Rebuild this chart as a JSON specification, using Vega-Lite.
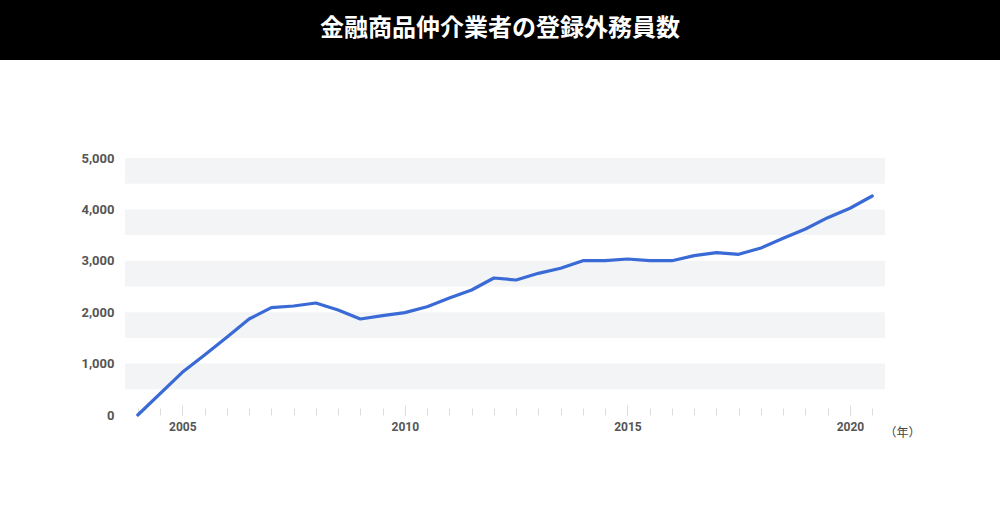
{
  "$schema": "https://vega.github.io/schema/vega-lite/v6.json",
  "padding": 0,
  "background": "#ffffff",
  "spacing": 92,
  "columns": 1,
  "config": {
    "view": {"stroke": null},
    "font": "Noto Sans CJK JP"
  },
  "datasets": {
    "series": [
      {"year": 2004.0, "count": 0},
      {"year": 2005.0, "count": 831},
      {"year": 2005.5, "count": 1167},
      {"year": 2006.0, "count": 1511},
      {"year": 2006.5, "count": 1868},
      {"year": 2007.0, "count": 2088},
      {"year": 2007.5, "count": 2121},
      {"year": 2008.0, "count": 2179},
      {"year": 2008.5, "count": 2043},
      {"year": 2009.0, "count": 1868},
      {"year": 2009.5, "count": 1932},
      {"year": 2010.0, "count": 1991},
      {"year": 2010.5, "count": 2107},
      {"year": 2011.0, "count": 2276},
      {"year": 2011.5, "count": 2432},
      {"year": 2012.0, "count": 2665},
      {"year": 2012.5, "count": 2626},
      {"year": 2013.0, "count": 2756},
      {"year": 2013.5, "count": 2854},
      {"year": 2014.0, "count": 3002},
      {"year": 2014.5, "count": 3002},
      {"year": 2015.0, "count": 3035},
      {"year": 2015.5, "count": 3002},
      {"year": 2016.0, "count": 3002},
      {"year": 2016.5, "count": 3100},
      {"year": 2017.0, "count": 3158},
      {"year": 2017.5, "count": 3126},
      {"year": 2018.0, "count": 3249},
      {"year": 2018.5, "count": 3438},
      {"year": 2019.0, "count": 3619},
      {"year": 2019.5, "count": 3839},
      {"year": 2020.0, "count": 4022},
      {"year": 2020.5, "count": 4261}
    ],
    "bands": [
      {"lo": 500, "hi": 1000},
      {"lo": 1500, "hi": 2000},
      {"lo": 2500, "hi": 3000},
      {"lo": 3500, "hi": 4000},
      {"lo": 4500, "hi": 5000}
    ],
    "heading": [{"text": "金融商品仲介業者の登録外務員数"}]
  },
  "concat": [
    {
      "width": 1000,
      "height": 60,
      "view": {"fill": "#000000", "stroke": null},
      "data": {"name": "heading"},
      "mark": {"type": "text", "color": "#ffffff", "fontSize": 24, "fontWeight": "bold", "font": "Noto Sans CJK JP", "align": "center", "baseline": "middle", "dy": -1},
      "encoding": {"text": {"field": "text", "type": "nominal"}}
    },
    {
      "width": 885,
      "height": 257,
      "resolve": {"axis": {"x": "independent"}},
      "layer": [
        {
          "data": {"name": "bands"},
          "mark": {"type": "rect", "color": "#f3f4f6"},
          "encoding": {
            "x": {"datum": 2003.713, "type": "quantitative", "scale": {"domain": [2000.904, 2020.787], "nice": false, "zero": false}, "axis": null},
            "x2": {"datum": 2020.787},
            "y": {"field": "lo", "type": "quantitative", "scale": {"domain": [0, 5000], "nice": false},
              "axis": {"values": [0, 1000, 2000, 3000, 4000, 5000], "format": ",d", "grid": false, "domain": false, "ticks": false, "title": null, "offset": -115, "minExtent": 0,
                "labelFont": "Roboto", "labelFontWeight": "bold", "labelFontSize": 13, "labelColor": "#555555", "labelPadding": 1}},
            "y2": {"field": "hi"}
          }
        },
        {
          "mark": {"type": "rule", "color": "#dddddd", "strokeWidth": 1.5},
          "encoding": {
            "x": {"datum": 2003.713, "type": "quantitative", "axis": null},
            "x2": {"datum": 2020.787},
            "y": {"datum": 0, "type": "quantitative"}
          }
        },
        {
          "data": {"name": "series"},
          "mark": {"type": "line", "color": "#3a6ad6", "strokeWidth": 3.2, "strokeCap": "round", "strokeJoin": "round"},
          "encoding": {
            "x": {"field": "year", "type": "quantitative",
              "axis": {"orient": "bottom", "values": [2004, 2004.5, 2005, 2005.5, 2006, 2006.5, 2007, 2007.5, 2008, 2008.5, 2009, 2009.5, 2010, 2010.5, 2011, 2011.5, 2012, 2012.5, 2013, 2013.5, 2014, 2014.5, 2015, 2015.5, 2016, 2016.5, 2017, 2017.5, 2018, 2018.5, 2019, 2019.5, 2020, 2020.5],
                "labels": false, "grid": false, "title": null, "domain": false, "tickSize": -7, "tickColor": "#dddddd", "tickWidth": 1}},
            "y": {"field": "count", "type": "quantitative"}
          }
        },
        {
          "data": {"name": "series"},
          "mark": {"type": "point", "opacity": 0},
          "encoding": {
            "x": {"field": "year", "type": "quantitative",
              "axis": {"orient": "bottom", "values": [2005, 2010, 2015, 2020], "format": "d", "grid": false, "domain": false, "tickSize": -10, "tickColor": "#dddddd", "tickWidth": 1,
                "labelPadding": 16, "labelFont": "Roboto", "labelFontWeight": "bold", "labelFontSize": 12, "labelColor": "#555555",
                "title": "（年）", "titleFont": "Noto Sans CJK JP", "titleFontSize": 12, "titleFontWeight": "normal", "titleColor": "#444444",
                "titleAnchor": "end", "titleAlign": "center", "titleBaseline": "middle", "titleX": 902, "titleY": 17}},
            "y": {"field": "count", "type": "quantitative"}
          }
        }
      ]
    }
  ]
}
